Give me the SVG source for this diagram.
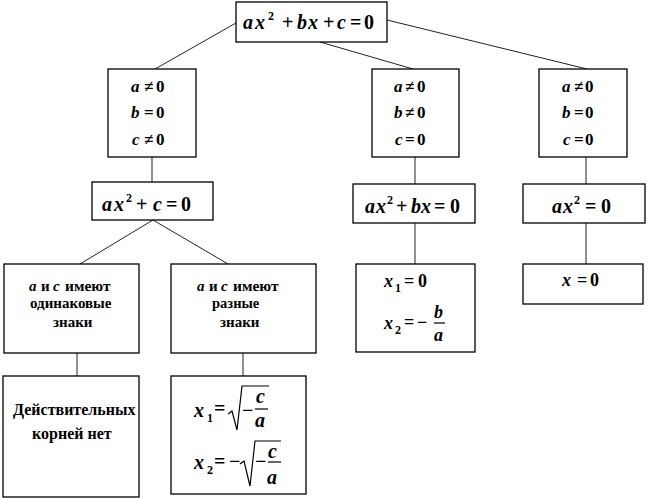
<svg xmlns="http://www.w3.org/2000/svg" width="649" height="499" viewBox="0 0 649 499">
<style>
.box{fill:#fff;stroke:#000;stroke-width:1.3}
.ln{stroke:#222;stroke-width:1;fill:none}
.bar{stroke:#000;stroke-width:1.2;fill:none}
</style>
<rect width="649" height="499" fill="#fff"/>
<g id="connectors">
<line class="ln" x1="236" y1="23" x2="155" y2="69"/>
<line class="ln" x1="320" y1="42" x2="413" y2="69"/>
<line class="ln" x1="387" y1="20" x2="587" y2="69"/>
<line class="ln" x1="152" y1="157" x2="152" y2="182"/>
<line class="ln" x1="415" y1="157" x2="415" y2="184"/>
<line class="ln" x1="586" y1="157" x2="586" y2="184"/>
<line class="ln" x1="153" y1="220" x2="80" y2="264"/>
<line class="ln" x1="153" y1="220" x2="228" y2="264"/>
<line class="ln" x1="415" y1="223" x2="415" y2="264"/>
<line class="ln" x1="586" y1="223" x2="586" y2="264"/>
<line class="ln" x1="77" y1="353" x2="77" y2="376"/>
<line class="ln" x1="243" y1="353" x2="243" y2="376"/>
</g>
<g id="root">
<rect class="box" x="236" y="2" width="151" height="40"/>
<text x="243" y="29" font-family="Times New Roman" font-weight="bold" font-style="italic" font-size="20">a</text>
<text x="255" y="29" font-family="Times New Roman" font-weight="bold" font-style="italic" font-size="20">x</text>
<text x="268" y="20" font-family="Times New Roman" font-weight="bold" font-size="12">2</text>
<text x="282" y="29" font-family="Times New Roman" font-weight="bold" font-size="20">+</text>
<text x="297" y="29" font-family="Times New Roman" font-weight="bold" font-style="italic" font-size="20">b</text>
<text x="308" y="29" font-family="Times New Roman" font-weight="bold" font-style="italic" font-size="20">x</text>
<text x="323" y="29" font-family="Times New Roman" font-weight="bold" font-size="20">+</text>
<text x="337" y="29" font-family="Times New Roman" font-weight="bold" font-style="italic" font-size="20">c</text>
<text x="350" y="29" font-family="Times New Roman" font-weight="bold" font-size="20">=</text>
<text x="364" y="29" font-family="Times New Roman" font-weight="bold" font-size="20">0</text>
</g>
<g id="caseL">
<rect class="box" x="108" y="69" width="88" height="88"/>
<text x="131" y="92" font-family="Times New Roman" font-weight="bold" font-style="italic" font-size="17">a</text>
<text x="144" y="92" font-family="Times New Roman" font-weight="bold" font-size="17">≠</text>
<text x="156" y="92" font-family="Times New Roman" font-weight="bold" font-size="17">0</text>
<text x="131" y="118" font-family="Times New Roman" font-weight="bold" font-style="italic" font-size="17">b</text>
<text x="144" y="118" font-family="Times New Roman" font-weight="bold" font-size="17">=</text>
<text x="156" y="118" font-family="Times New Roman" font-weight="bold" font-size="17">0</text>
<text x="132" y="145" font-family="Times New Roman" font-weight="bold" font-style="italic" font-size="17">c</text>
<text x="144" y="145" font-family="Times New Roman" font-weight="bold" font-size="17">≠</text>
<text x="156" y="145" font-family="Times New Roman" font-weight="bold" font-size="17">0</text>
</g>
<g id="caseM">
<rect class="box" x="372" y="69" width="87" height="88"/>
<text x="394" y="92" font-family="Times New Roman" font-weight="bold" font-style="italic" font-size="17">a</text>
<text x="405" y="92" font-family="Times New Roman" font-weight="bold" font-size="17">≠</text>
<text x="417" y="92" font-family="Times New Roman" font-weight="bold" font-size="17">0</text>
<text x="394" y="118" font-family="Times New Roman" font-weight="bold" font-style="italic" font-size="17">b</text>
<text x="405" y="118" font-family="Times New Roman" font-weight="bold" font-size="17">≠</text>
<text x="417" y="118" font-family="Times New Roman" font-weight="bold" font-size="17">0</text>
<text x="395" y="145" font-family="Times New Roman" font-weight="bold" font-style="italic" font-size="17">c</text>
<text x="405" y="145" font-family="Times New Roman" font-weight="bold" font-size="17">=</text>
<text x="417" y="145" font-family="Times New Roman" font-weight="bold" font-size="17">0</text>
</g>
<g id="caseR">
<rect class="box" x="539" y="69" width="88" height="88"/>
<text x="562" y="92" font-family="Times New Roman" font-weight="bold" font-style="italic" font-size="17">a</text>
<text x="574" y="92" font-family="Times New Roman" font-weight="bold" font-size="17">≠</text>
<text x="585" y="92" font-family="Times New Roman" font-weight="bold" font-size="17">0</text>
<text x="562" y="118" font-family="Times New Roman" font-weight="bold" font-style="italic" font-size="17">b</text>
<text x="574" y="118" font-family="Times New Roman" font-weight="bold" font-size="17">=</text>
<text x="585" y="118" font-family="Times New Roman" font-weight="bold" font-size="17">0</text>
<text x="563" y="145" font-family="Times New Roman" font-weight="bold" font-style="italic" font-size="17">c</text>
<text x="574" y="145" font-family="Times New Roman" font-weight="bold" font-size="17">=</text>
<text x="585" y="145" font-family="Times New Roman" font-weight="bold" font-size="17">0</text>
</g>
<g id="eqL">
<rect class="box" x="92" y="182" width="121" height="38"/>
<text x="102" y="211" font-family="Times New Roman" font-weight="bold" font-style="italic" font-size="20">a</text>
<text x="114" y="211" font-family="Times New Roman" font-weight="bold" font-style="italic" font-size="20">x</text>
<text x="126" y="202" font-family="Times New Roman" font-weight="bold" font-size="12">2</text>
<text x="136" y="211" font-family="Times New Roman" font-weight="bold" font-size="20">+</text>
<text x="153" y="211" font-family="Times New Roman" font-weight="bold" font-style="italic" font-size="20">c</text>
<text x="166" y="211" font-family="Times New Roman" font-weight="bold" font-size="20">=</text>
<text x="181" y="211" font-family="Times New Roman" font-weight="bold" font-size="20">0</text>
</g>
<g id="eqM">
<rect class="box" x="353" y="184" width="122" height="39"/>
<text x="365" y="213" font-family="Times New Roman" font-weight="bold" font-style="italic" font-size="20">a</text>
<text x="376" y="213" font-family="Times New Roman" font-weight="bold" font-style="italic" font-size="20">x</text>
<text x="387" y="204" font-family="Times New Roman" font-weight="bold" font-size="12">2</text>
<text x="396" y="213" font-family="Times New Roman" font-weight="bold" font-size="20">+</text>
<text x="411" y="213" font-family="Times New Roman" font-weight="bold" font-style="italic" font-size="20">b</text>
<text x="421" y="213" font-family="Times New Roman" font-weight="bold" font-style="italic" font-size="20">x</text>
<text x="434" y="213" font-family="Times New Roman" font-weight="bold" font-size="20">=</text>
<text x="450" y="213" font-family="Times New Roman" font-weight="bold" font-size="20">0</text>
</g>
<g id="eqR">
<rect class="box" x="523" y="184" width="122" height="39"/>
<text x="552" y="213" font-family="Times New Roman" font-weight="bold" font-style="italic" font-size="20">a</text>
<text x="563" y="213" font-family="Times New Roman" font-weight="bold" font-style="italic" font-size="20">x</text>
<text x="574" y="204" font-family="Times New Roman" font-weight="bold" font-size="12">2</text>
<text x="585" y="213" font-family="Times New Roman" font-weight="bold" font-size="20">=</text>
<text x="601" y="213" font-family="Times New Roman" font-weight="bold" font-size="20">0</text>
</g>
<g id="sameSigns">
<rect class="box" x="4" y="264" width="135" height="89"/>
<text x="29" y="291" font-family="Times New Roman" font-weight="bold" font-style="italic" font-size="15">a</text>
<text x="41" y="291" font-family="Times New Roman" font-weight="bold" font-size="15">и</text>
<text x="53" y="291" font-family="Times New Roman" font-weight="bold" font-style="italic" font-size="15">c</text>
<text x="65" y="291" font-family="Times New Roman" font-weight="bold" font-size="15.5">имеют</text>
<text x="30" y="308" font-family="Times New Roman" font-weight="bold" font-size="15">одинаковые</text>
<text x="53" y="327" font-family="Times New Roman" font-weight="bold" font-size="15">знаки</text>
</g>
<g id="diffSigns">
<rect class="box" x="171" y="264" width="145" height="89"/>
<text x="197" y="291" font-family="Times New Roman" font-weight="bold" font-style="italic" font-size="15">a</text>
<text x="209" y="291" font-family="Times New Roman" font-weight="bold" font-size="15">и</text>
<text x="221" y="291" font-family="Times New Roman" font-weight="bold" font-style="italic" font-size="15">c</text>
<text x="233" y="291" font-family="Times New Roman" font-weight="bold" font-size="15.5">имеют</text>
<text x="212" y="308" font-family="Times New Roman" font-weight="bold" font-size="14.5">разные</text>
<text x="220" y="327" font-family="Times New Roman" font-weight="bold" font-size="15">знаки</text>
</g>
<g id="rootsM">
<rect class="box" x="356" y="264" width="119" height="88"/>
<text x="384" y="287" font-family="Times New Roman" font-weight="bold" font-style="italic" font-size="18">x</text>
<text x="395" y="292" font-family="Times New Roman" font-weight="bold" font-size="12">1</text>
<text x="404" y="287" font-family="Times New Roman" font-weight="bold" font-size="18">=</text>
<text x="418" y="287" font-family="Times New Roman" font-weight="bold" font-size="18">0</text>
<text x="384" y="329" font-family="Times New Roman" font-weight="bold" font-style="italic" font-size="18">x</text>
<text x="395" y="334" font-family="Times New Roman" font-weight="bold" font-size="12">2</text>
<text x="404" y="328" font-family="Times New Roman" font-weight="bold" font-size="18">=</text>
<text x="417" y="328" font-family="Times New Roman" font-weight="bold" font-size="18">−</text>
<text x="434" y="318" font-family="Times New Roman" font-weight="bold" font-style="italic" font-size="18">b</text>
<text x="434" y="341" font-family="Times New Roman" font-weight="bold" font-style="italic" font-size="18">a</text>
<line class="bar" x1="434" y1="323" x2="445" y2="323"/>
</g>
<g id="rootR">
<rect class="box" x="523" y="264" width="120" height="40"/>
<text x="562" y="286" font-family="Times New Roman" font-weight="bold" font-style="italic" font-size="18">x</text>
<text x="577" y="286" font-family="Times New Roman" font-weight="bold" font-size="18">=</text>
<text x="590" y="286" font-family="Times New Roman" font-weight="bold" font-size="18">0</text>
</g>
<g id="noRoots">
<rect class="box" x="3" y="376" width="136" height="121"/>
<text x="13" y="415" font-family="Times New Roman" font-weight="bold" font-size="16">Действительных</text>
<text x="32" y="439" font-family="Times New Roman" font-weight="bold" font-size="16">корней нет</text>
</g>
<g id="rootsL">
<rect class="box" x="171" y="376" width="135" height="118"/>
<text x="194" y="417" font-family="Times New Roman" font-weight="bold" font-style="italic" font-size="20">x</text>
<text x="207" y="422" font-family="Times New Roman" font-weight="bold" font-size="12">1</text>
<text x="214" y="415" font-family="Times New Roman" font-weight="bold" font-size="20">=</text>
<text x="242" y="417" font-family="Times New Roman" font-weight="bold" font-size="20">−</text>
<text x="256" y="403" font-family="Times New Roman" font-weight="bold" font-style="italic" font-size="20">c</text>
<text x="255" y="427" font-family="Times New Roman" font-weight="bold" font-style="italic" font-size="20">a</text>
<path class="bar" d="M228,414 L232,411 L237,430 L242,386 L269,386"/>
<line class="bar" x1="255" y1="409" x2="268" y2="409"/>
<text x="194" y="469" font-family="Times New Roman" font-weight="bold" font-style="italic" font-size="20">x</text>
<text x="207" y="474" font-family="Times New Roman" font-weight="bold" font-size="12">2</text>
<text x="214" y="468" font-family="Times New Roman" font-weight="bold" font-size="20">=</text>
<text x="229" y="468" font-family="Times New Roman" font-weight="bold" font-size="20">−</text>
<text x="255" y="468" font-family="Times New Roman" font-weight="bold" font-size="20">−</text>
<text x="268" y="458" font-family="Times New Roman" font-weight="bold" font-style="italic" font-size="20">c</text>
<text x="267" y="484" font-family="Times New Roman" font-weight="bold" font-style="italic" font-size="20">a</text>
<path class="bar" d="M240,464 L244,461 L250,486 L255,441 L281,441"/>
<line class="bar" x1="268" y1="462" x2="281" y2="462"/>
</g>
</svg>
